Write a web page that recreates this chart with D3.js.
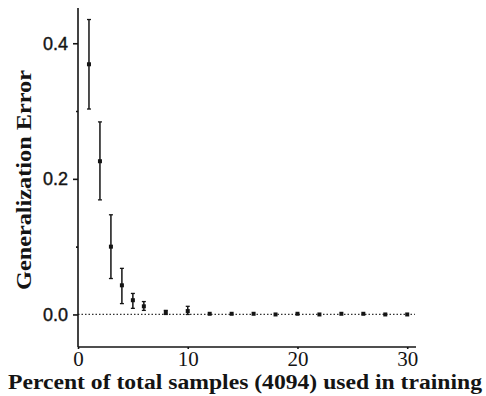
<!DOCTYPE html>
<html>
<head>
<meta charset="utf-8">
<script src="https://cdn.jsdelivr.net/npm/d3@7"></script>
<style>
  body { margin: 0; background: #fff; }
  svg { display: block; }
</style>
</head>
<body>
<div id="chart"></div>
<script>
// percent of samples used in training
var pct = [1, 2, 3, 4, 5, 6, 8, 10, 12, 14, 16, 18, 20, 22, 24, 26, 28, 30];
// mean generalization error and error bar ends
var meanErr = [0.369, 0.226, 0.100, 0.043, 0.021, 0.012, 0.003, 0.005, 0.001, 0.001, 0.001, 0.000, 0.001, 0.000, 0.001, 0.001, 0.000, 0.000];
var upperErr = [0.435, 0.284, 0.147, 0.068, 0.031, 0.019, 0.006, 0.012, 0.002, 0.002, 0.002, 0.001, 0.002, 0.001, 0.002, 0.002, 0.001, 0.001];
var lowerErr = [0.303, 0.169, 0.053, 0.016, 0.009, 0.006, 0.000, 0.000, 0.000, 0.000, 0.000, 0.000, 0.000, 0.000, 0.000, 0.000, 0.000, 0.000];

var yMajor = [0, 0.2, 0.4];
var yMinor = [0.1, 0.3];
var xTicks = [0, 10, 20, 30];

var xLabel = "Percent of total samples (4094) used in training";
var yLabel = "Generalization Error";

var width = 486, height = 396;
var ink = "#141414";

var x = d3.scaleLinear().domain([0, 30.8]).range([78, 416]);
var y = d3.scaleLinear().domain([-0.048, 0.452]).range([347, 8]);

var svg = d3.select("#chart").append("svg")
  .attr("width", width)
  .attr("height", height);

var data = pct.map(function (p, i) {
  return { p: p, m: meanErr[i], hi: upperErr[i], lo: lowerErr[i] };
});

// dotted zero line
svg.append("line")
  .attr("x1", x(0)).attr("x2", x(30.7))
  .attr("y1", y(0)).attr("y2", y(0))
  .style("stroke", "#333")
  .style("stroke-width", 1.2)
  .style("stroke-dasharray", "1.5,2");

// axes
var yAxis = d3.axisLeft(y).tickValues(yMajor).tickSize(5)
  .tickFormat(d3.format(".1f"));
var gy = svg.append("g")
  .attr("transform", "translate(" + x(0) + ",0)")
  .call(yAxis);
gy.select(".domain").attr("d", "M0," + y.range()[1] + "V" + y.range()[0]);

svg.append("g")
  .attr("transform", "translate(" + x(0) + ",0)")
  .call(d3.axisLeft(y).tickValues(yMinor).tickSize(2).tickFormat(""))
  .select(".domain").remove();

var xAxis = d3.axisBottom(x).tickValues(xTicks).tickSize(2)
  .tickFormat(d3.format("d"));
var gx = svg.append("g")
  .attr("transform", "translate(0," + y(-0.048) + ")")
  .call(xAxis);
gx.select(".domain").attr("d", "M" + x(0) + ",0H" + x(30.8));

svg.selectAll(".domain, .tick line")
  .style("stroke", ink)
  .style("stroke-width", 1.6);

gy.selectAll("text")
  .attr("x", -10)
  .style("font-family", "'Liberation Sans', Arial, sans-serif")
  .style("font-size", "18px")
  .style("fill", ink)
  .style("stroke", ink)
  .style("stroke-width", 0.4);

gx.selectAll("text")
  .attr("y", 19)
  .attr("dy", 0)
  .style("font-family", "'Liberation Serif', 'Times New Roman', serif")
  .style("font-size", "21px")
  .style("fill", ink);

// error bars
var bars = svg.append("g").selectAll("g")
  .data(data)
  .enter()
  .append("g");

bars.append("line")
  .attr("x1", function (d) { return x(d.p); })
  .attr("x2", function (d) { return x(d.p); })
  .attr("y1", function (d) { return y(d.hi); })
  .attr("y2", function (d) { return y(d.lo); })
  .style("stroke", ink)
  .style("stroke-width", 1.5);

bars.filter(function (d) { return d.hi - d.lo > 0.005; })
  .selectAll(".cap")
  .data(function (d) { return [{ p: d.p, v: d.hi }, { p: d.p, v: d.lo }]; })
  .enter()
  .append("line")
  .attr("class", "cap")
  .attr("x1", function (d) { return x(d.p) - 2; })
  .attr("x2", function (d) { return x(d.p) + 2; })
  .attr("y1", function (d) { return y(d.v); })
  .attr("y2", function (d) { return y(d.v); })
  .style("stroke", ink)
  .style("stroke-width", 1.3);

bars.append("rect")
  .attr("x", function (d) { return x(d.p) - 2; })
  .attr("y", function (d) { return y(d.m) - 2; })
  .attr("width", 4)
  .attr("height", 4)
  .style("fill", ink);

// axis titles
svg.append("text")
  .attr("x", 245)
  .attr("y", 389)
  .attr("text-anchor", "middle")
  .attr("textLength", 474)
  .attr("lengthAdjust", "spacingAndGlyphs")
  .style("font-family", "'Liberation Serif', 'Times New Roman', serif")
  .style("font-weight", "bold")
  .style("font-size", "20px")
  .style("fill", ink)
  .text(xLabel);

svg.append("text")
  .attr("transform", "translate(31,180) rotate(-90)")
  .attr("text-anchor", "middle")
  .attr("textLength", 220)
  .attr("lengthAdjust", "spacingAndGlyphs")
  .style("font-family", "'Liberation Serif', 'Times New Roman', serif")
  .style("font-weight", "bold")
  .style("font-size", "20px")
  .style("fill", ink)
  .text(yLabel);
</script>
</body>
</html>
